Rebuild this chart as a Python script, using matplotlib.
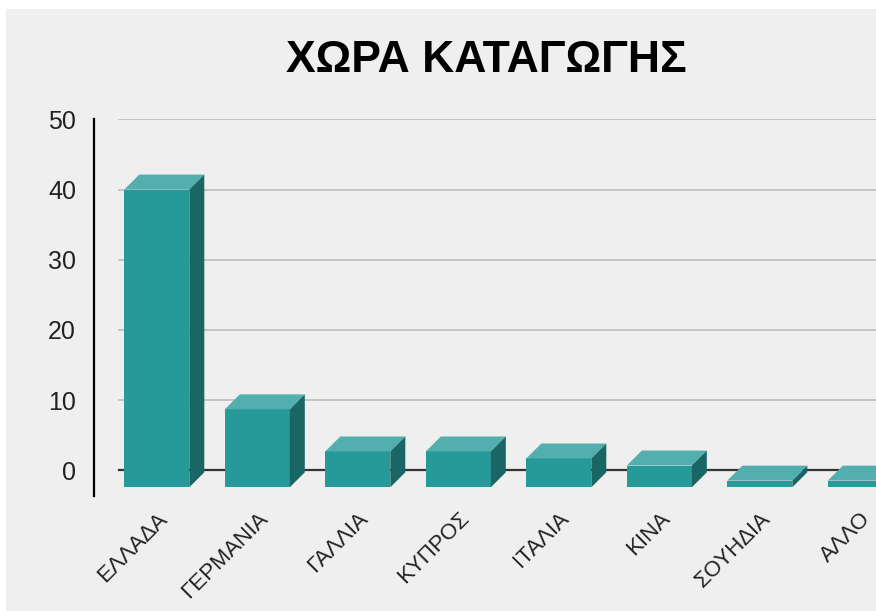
# bar chart of country of origin, drawn as pseudo-3D boxes

import matplotlib.pyplot as plt
from matplotlib.patches import Polygon, Rectangle

countries = ['ΕΛΛΑΔΑ', 'ΓΕΡΜΑΝΙΑ', 'ΓΑΛΛΙΑ', 'ΚΥΠΡΟΣ', 'ΙΤΑΛΙΑ', 'ΚΙΝΑ', 'ΣΟΥΗΔΙΑ', 'ΑΛΛΟ']
values = [40, 8.7, 2.7, 2.7, 1.7, 0.7, -1.45, -1.45]
yticks = [0, 10, 20, 30, 40, 50]

BASE = -2.4       # bottom of the front faces
WIDTH = 0.647     # bar width in x units
DX = 0.149        # depth offset, x units
DY = 2.13         # depth offset, y units

FRONT = '#269a98'
TOP = '#52afae'
SIDE = '#1a6664'
BG = '#efefef'

plt.rcParams['font.family'] = ['Liberation Sans', 'DejaVu Sans']

fig = plt.figure(figsize=(8.76, 6.11), dpi=100)
fig.patch.set_facecolor('white')
# grey chart area with a thin white border at top/left
fig.patches.append(Rectangle((6 / 876, 0), 1, 1 - 9 / 611, transform=fig.transFigure,
                             facecolor=BG, edgecolor='none', zorder=-10))

ax = fig.add_axes([94 / 876, (611 - 495.7) / 611, (876 - 94) / 876, (495.7 - 119.3) / 611])
ax.set_facecolor(BG)
ax.set_xlim(-0.625, 7.156)
ax.set_ylim(-3.6, 50)

# grid on the back plane
for t in yticks:
    if t == 0:
        ax.plot([-0.379, 8], [0, 0], color='#333333', lw=1.6, zorder=1)
    else:
        ax.plot([-0.379, 8], [t, t], color='#c4c4c4', lw=1.4, zorder=1)

for i, v in enumerate(values):
    x0 = i - WIDTH / 2
    x1 = i + WIDTH / 2
    ax.add_patch(Rectangle((x0, BASE), WIDTH, v - BASE, facecolor=FRONT, edgecolor='none', zorder=3))
    ax.add_patch(Polygon([(x0, v), (x1, v), (x1 + DX, v + DY), (x0 + DX, v + DY)],
                         closed=True, facecolor=TOP, edgecolor='none', zorder=3))
    ax.add_patch(Polygon([(x1, BASE), (x1 + DX, BASE + DY), (x1 + DX, v + DY), (x1, v)],
                         closed=True, facecolor=SIDE, edgecolor='none', zorder=3))

ax.set_yticks(yticks)
ax.set_yticklabels([str(t) for t in yticks], fontsize=18, color='#222222')
ax.set_xticks(range(len(countries)))
ax.set_xticklabels(countries, fontsize=16, color='#222222', rotation=45,
                   ha='right', va='top', rotation_mode='anchor')
ax.tick_params(axis='y', length=0, pad=13)
ax.tick_params(axis='x', length=0, pad=9)

for side in ['top', 'right', 'bottom']:
    ax.spines[side].set_visible(False)
ax.spines['left'].set_linewidth(1.6)
ax.spines['left'].set_color('black')

fig.text(486 / 876, 1 - 60 / 611, 'ΧΩΡΑ ΚΑΤΑΓΩΓΗΣ', fontsize=32, fontweight='bold',
         ha='center', va='center', color='black')

plt.savefig('out.png', dpi=100)
